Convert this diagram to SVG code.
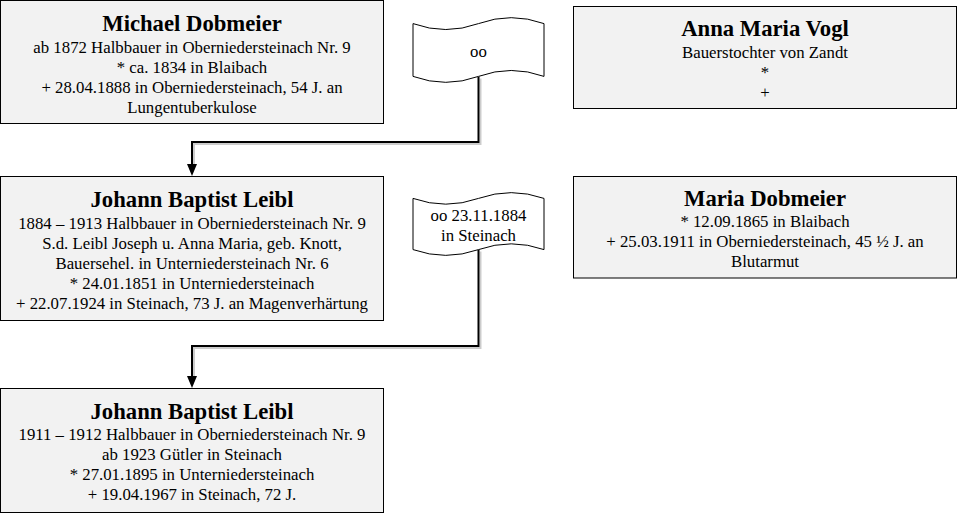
<svg xmlns="http://www.w3.org/2000/svg" width="958" height="514" viewBox="0 0 958 514" font-family="'Liberation Serif', 'Times New Roman', Tinos, serif">
<style>
.box{fill:#f2f2f2;stroke:#000;stroke-width:1}
.tape{fill:#fff;stroke:#000;stroke-width:1}
.t,.b{font-family:'Liberation Serif','Times New Roman',Tinos,serif;fill:#000;text-anchor:middle}
.t{font-size:22.7px;font-weight:bold}
.b{font-size:16.8px}
.edge{fill:none;stroke:#000;stroke-width:2}
.shadow{fill:none;stroke:#000;stroke-opacity:0.2;stroke-width:2}
</style>
<defs>
<marker id="arr" markerUnits="userSpaceOnUse" markerWidth="12" markerHeight="12" viewBox="0 0 12 10" refX="0" refY="5" orient="auto">
<path d="M0 0 L12 5 L0 10 Z" fill="#000"/>
</marker>
</defs>
<rect width="958" height="514" fill="#fff"/>
<g id="connectors">
<path class="shadow" d="M480.5 78.5 V144 H194 V166"/>
<path class="shadow" d="M480.5 251.5 V348 H194 V378"/>
<path class="edge" d="M478.5 76.5 V142 H192 V164" marker-end="url(#arr)"/>
<path class="edge" d="M478.5 249.6 V346 H192 V376" marker-end="url(#arr)"/>
</g>
<g id="michael">
<rect class="box" x="0.5" y="0.5" width="383" height="123"/>
<text class="t" x="192" y="31.4">Michael Dobmeier</text>
<text class="b" x="192" y="52.6">ab 1872 Halbbauer in Oberniedersteinach Nr. 9</text>
<text class="b" x="192" y="72.6">* ca. 1834 in Blaibach</text>
<text class="b" x="192" y="92.6">+ 28.04.1888 in Oberniedersteinach, 54 J. an</text>
<text class="b" x="192" y="112.6">Lungentuberkulose</text>
</g>
<g id="marriage1">
<path class="tape" d="M413 23.6 Q445.75 35.48 478.5 23.6 Q511.25 11.72 544 23.6 L544 76.4 Q511.25 64.52 478.5 76.4 Q445.75 88.28 413 76.4 Z"/>
<text class="b" x="478.5" y="56.6">oo</text>
</g>
<g id="anna">
<rect class="box" x="573.5" y="6.5" width="383" height="102"/>
<text class="t" x="765" y="36.4">Anna Maria Vogl</text>
<text class="b" x="765" y="57.6">Bauerstochter von Zandt</text>
<text class="b" x="765" y="77.6">*</text>
<text class="b" x="765" y="97.6">+</text>
</g>
<g id="johann1">
<rect class="box" x="0.5" y="176.5" width="383" height="144"/>
<text class="t" x="192" y="207.4">Johann Baptist Leibl</text>
<text class="b" x="192" y="228.6">1884 – 1913 Halbbauer in Oberniedersteinach Nr. 9</text>
<text class="b" x="192" y="248.6">S.d. Leibl Joseph u. Anna Maria, geb. Knott,</text>
<text class="b" x="192" y="268.6">Bauersehel. in Unterniedersteinach Nr. 6</text>
<text class="b" x="192" y="288.6">* 24.01.1851 in Unterniedersteinach</text>
<text class="b" x="192" y="308.6">+ 22.07.1924 in Steinach, 73 J. an Magenverhärtung</text>
</g>
<g id="marriage2">
<path class="tape" d="M413 198.4 Q445.75 209.92 478.5 198.4 Q511.25 186.88 544 198.4 L544 249.6 Q511.25 238.08 478.5 249.6 Q445.75 261.12 413 249.6 Z"/>
<text class="b" x="478.5" y="220.6">oo 23.11.1884</text>
<text class="b" x="478.5" y="240.6">in Steinach</text>
</g>
<g id="maria">
<rect class="box" x="573.5" y="176.5" width="383" height="101.5"/>
<text class="t" x="765" y="205.9">Maria Dobmeier</text>
<text class="b" x="765" y="227.1">* 12.09.1865 in Blaibach</text>
<text class="b" x="765" y="247.1">+ 25.03.1911 in Oberniedersteinach, 45 ½ J. an</text>
<text class="b" x="765" y="267.1">Blutarmut</text>
</g>
<g id="johann2">
<rect class="box" x="0.5" y="388.5" width="383" height="124"/>
<text class="t" x="192" y="418.9">Johann Baptist Leibl</text>
<text class="b" x="192" y="440.1">1911 – 1912 Halbbauer in Oberniedersteinach Nr. 9</text>
<text class="b" x="192" y="460.1">ab 1923 Gütler in Steinach</text>
<text class="b" x="192" y="480.1">* 27.01.1895 in Unterniedersteinach</text>
<text class="b" x="192" y="500.1">+ 19.04.1967 in Steinach, 72 J.</text>
</g>
</svg>
